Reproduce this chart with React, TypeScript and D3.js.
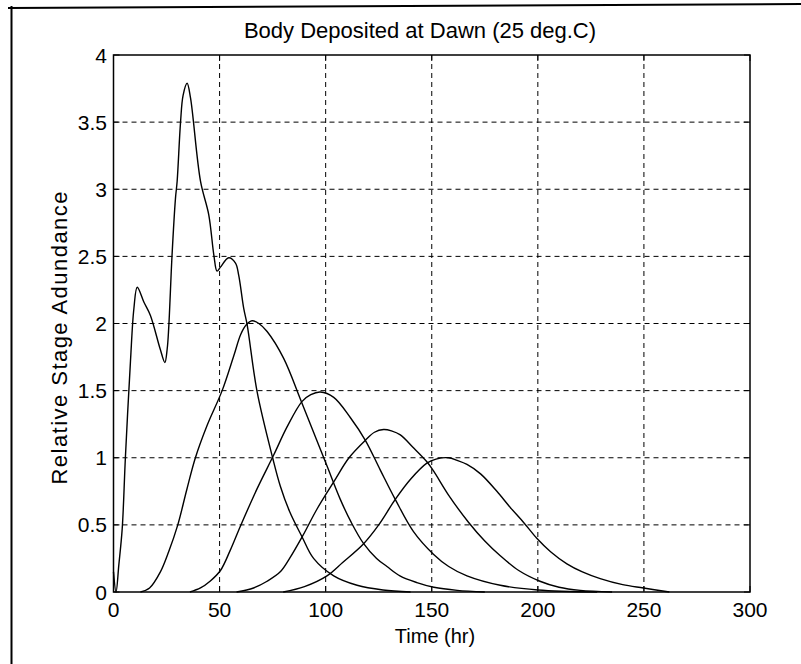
import React from "react";
import * as d3 from "d3";

const title = "Body Deposited at Dawn (25 deg.C)";
const xLabel = "Time (hr)";
const yLabel = "Relative Stage Adundance";
const xTicks = [0, 50, 100, 150, 200, 250, 300];
const yTicks = [0, 0.5, 1, 1.5, 2, 2.5, 3, 3.5, 4];

const stageA: [number, number][] = [
  [0, 0.15], [1.2, 0], [2.5, 0.2], [4.1, 0.47], [5.6, 1.0], [8, 1.72], [9.6, 2.11], [11.2, 2.27],
  [14.3, 2.16], [17.4, 2.06], [22, 1.81], [24.2, 1.71], [25.3, 1.81], [26, 1.96], [27.6, 2.51],
  [29.2, 2.93], [30, 3.06], [31.6, 3.5], [32.8, 3.7], [34.7, 3.79], [36.3, 3.68], [41, 3.06],
  [44.9, 2.81], [47.3, 2.51], [48.8, 2.39], [50.4, 2.42], [54.3, 2.49], [57.5, 2.45], [59, 2.36],
  [61.4, 2.11], [63, 1.99], [67.7, 1.49], [75, 1.0], [78.6, 0.79], [83, 0.6], [88.9, 0.41],
  [94.3, 0.25], [103.8, 0.12], [114.8, 0.05], [127, 0.015], [140, 0],
];
const stageB: [number, number][] = [
  [12.7, 0], [17, 0.03], [22.1, 0.15], [26, 0.3], [30.3, 0.5], [34.5, 0.76], [38.6, 1.0],
  [44.1, 1.24], [51.2, 1.5], [56.7, 1.76], [60, 1.92], [62.6, 1.99], [65.3, 2.02], [68.5, 2.0],
  [72.4, 1.94], [80.2, 1.74], [88, 1.44], [94.3, 1.19], [100.6, 0.94], [106.9, 0.69], [112, 0.52],
  [117.9, 0.36], [124, 0.25], [128.9, 0.19], [135, 0.12], [143, 0.07], [151, 0.035], [162, 0.012],
  [175, 0],
];
const stageC: [number, number][] = [
  [36, 0], [41, 0.03], [45.5, 0.08], [50.4, 0.16], [55, 0.31], [59.8, 0.49], [67.7, 0.77],
  [75.5, 1.02], [81.8, 1.23], [88.9, 1.42], [93, 1.47], [97.5, 1.49], [103.8, 1.45], [111.6, 1.3],
  [118.7, 1.13], [125.7, 0.91], [132.8, 0.69], [141.4, 0.45], [150.9, 0.28], [158, 0.19],
  [166.6, 0.12], [182.3, 0.05], [200, 0.015], [228, 0],
];
const stageD: [number, number][] = [
  [58, 0], [66, 0.03], [72.4, 0.08], [78.6, 0.15], [83, 0.25], [88.9, 0.41], [96, 0.62],
  [103.8, 0.82], [111, 1.0], [118.7, 1.13], [123, 1.19], [127.3, 1.21], [131, 1.2], [135.2, 1.17],
  [141, 1.08], [147.7, 0.97], [150.9, 0.9], [158, 0.72], [167.3, 0.52], [175, 0.38], [182.3, 0.27],
  [191, 0.16], [201, 0.08], [210, 0.035], [220, 0.012], [235, 0],
];
const stageE: [number, number][] = [
  [80, 0], [90, 0.04], [100.6, 0.12], [108, 0.22], [117.9, 0.36], [125, 0.5], [132.8, 0.69],
  [140, 0.84], [147.7, 0.96], [152, 0.99], [157.9, 1.0], [162, 0.98], [166.6, 0.95], [173, 0.88],
  [180.7, 0.75], [187, 0.63], [193.2, 0.52], [199.5, 0.4], [206, 0.3], [213.7, 0.21], [221, 0.15],
  [229.4, 0.1], [240, 0.055], [249.8, 0.03], [262, 0],
];
const series = [stageA, stageB, stageC, stageD, stageE];

const W = 801;
const H = 664;
const L = 113.5, R = 750, T = 55, B = 592;
const FONT = "'Liberation Sans', Arial, sans-serif";

export default function App() {
  const x = d3.scaleLinear().domain([0, 300]).range([L, R]);
  const y = d3.scaleLinear().domain([0, 4]).range([B, T]);
  const line = d3
    .line<[number, number]>()
    .x((d) => x(d[0]))
    .y((d) => y(Math.max(0, d[1])))
    .curve(d3.curveCatmullRom.alpha(0.5));
  const tickLen = 6;
  return (
    <svg
      width={W}
      height={H}
      style={{ position: "absolute", left: 0, top: 0, background: "#fff" }}
      fontFamily={FONT}
    >
      <rect x={0} y={0} width={W} height={H} fill="#fff" />
      {/* figure frame */}
      <line x1={8} y1={8} x2={801} y2={4} stroke="#000" strokeWidth={2} />
      <line x1={11.5} y1={6} x2={11.5} y2={664} stroke="#000" strokeWidth={2} />

      {/* grid */}
      <g stroke="#000" strokeWidth={1} strokeDasharray="5,4" fill="none">
        {xTicks.slice(1, -1).map((t) => (
          <line key={"gx" + t} x1={x(t)} x2={x(t)} y1={T} y2={B} />
        ))}
        {yTicks.slice(1, -1).map((t) => (
          <line key={"gy" + t} x1={L} x2={R} y1={y(t)} y2={y(t)} />
        ))}
      </g>

      {/* ticks */}
      <g stroke="#000" strokeWidth={1}>
        {xTicks.map((t) => (
          <g key={"tx" + t}>
            <line x1={x(t)} x2={x(t)} y1={B} y2={B - tickLen} />
            <line x1={x(t)} x2={x(t)} y1={T} y2={T + tickLen} />
          </g>
        ))}
        {yTicks.map((t) => (
          <g key={"ty" + t}>
            <line x1={L} x2={L + tickLen} y1={y(t)} y2={y(t)} />
            <line x1={R} x2={R - tickLen} y1={y(t)} y2={y(t)} />
          </g>
        ))}
      </g>

      {/* curves */}
      <g fill="none" stroke="#000" strokeWidth={1.4} strokeLinejoin="round">
        {series.map((s, i) => (
          <path key={"s" + i} d={line(s) || ""} />
        ))}
      </g>

      {/* axes box */}
      <rect x={L} y={T} width={R - L} height={B - T} fill="none" stroke="#000" strokeWidth={1.5} />

      {/* tick labels */}
      <g fontSize={21} fill="#000">
        {xTicks.map((t) => (
          <text key={"lx" + t} x={x(t)} y={617} textAnchor="middle">
            {String(t)}
          </text>
        ))}
        {yTicks.map((t) => (
          <text key={"ly" + t} x={107} y={y(t) + 7.5} textAnchor="end">
            {String(t)}
          </text>
        ))}
      </g>

      <text x={420} y={38} textAnchor="middle" fontSize={22} fill="#000">
        {title}
      </text>
      <text x={435} y={643} textAnchor="middle" fontSize={20} fill="#000">
        {xLabel}
      </text>
      <text
        transform={`translate(67,338) rotate(-90)`}
        textAnchor="middle"
        fontSize={22}
        textLength={293}
        lengthAdjust="spacing"
        fill="#000"
      >
        {yLabel}
      </text>
    </svg>
  );
}
